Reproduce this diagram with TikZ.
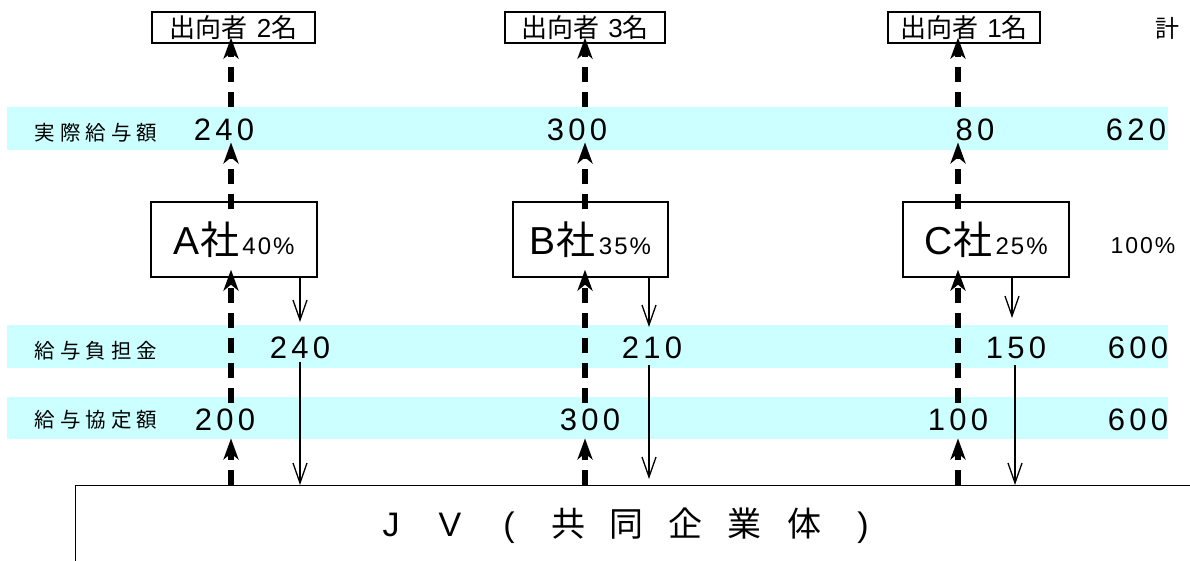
\documentclass[tikz,border=0pt]{standalone}
\usepackage{fontspec}
\setmainfont{Liberation Sans}
\newfontfamily\jp{Noto Sans CJK JP}
\usetikzlibrary{arrows.meta}
\definecolor{bandcyan}{HTML}{CCFFFF}
\newcommand\pitched[2]{\def\pitchw{#1}\pitchedA#2\relax}
\def\pitchedA#1{\ifx\relax#1\else\makebox[\pitchw][c]{#1}\expandafter\pitchedA\fi}
\newcommand\jvc[1]{\makebox[59pt][c]{#1}}
\tikzset{
  band/.style={fill=bandcyan, draw=none, inner sep=0, anchor=north west, minimum width=1161},
  lbl/.style={font=\jp\fontsize{20.5}{20.5}\selectfont, inner sep=0},
  num/.style={font=\fontsize{31}{31}\selectfont, inner sep=0},
  topbox/.style={draw, line width=1.3pt, minimum height=31, inner sep=0, font=\fontsize{26}{26}\selectfont},
  cobox/.style={draw, line width=1.3pt, minimum height=75, inner sep=0, font=\fontsize{39}{39}\selectfont},
  flow/.style={line width=6pt, dash pattern=on 15pt off 10pt, -{Stealth[length=21pt,width=15pt,inset=6pt]}},
  pay/.style={line width=1.3pt, -{Straight Barb[length=20pt,width=14pt,line width=1.3pt]}},
}
\begin{document}
\begin{tikzpicture}[x=1pt,y=-1pt]
\fill[white] (0,0) rectangle (1190,561);
\clip (0,0) rectangle (1190,561);
% bands
\node[band, minimum height=43] (b1) at (7,107) {};
\node[band, minimum height=43] (b2) at (7,325) {};
\node[band, minimum height=42] (b3) at (7,397) {};
% row labels
\node[lbl] (l1) at (96,133) {\pitched{25.5pt}{実際給与額}};
\node[lbl] (l2) at (96,351) {\pitched{25.5pt}{給与負担金}};
\node[lbl] (l3) at (96,420) {\pitched{25.5pt}{給与協定額}};
% numbers
\node[num] (nA1) at (224,130) {\pitched{21.5pt}{240}};
\node[num] (nB1) at (577,130) {\pitched{21.5pt}{300}};
\node[num] (nC1) at (975,130) {\pitched{21.5pt}{80}};
\node[num] (nT1) at (1136,130) {\pitched{21.5pt}{620}};
\node[num] (nA2) at (300,348) {\pitched{21.5pt}{240}};
\node[num] (nB2) at (652,348) {\pitched{21.5pt}{210}};
\node[num] (nC2) at (1016,348) {\pitched{21.5pt}{150}};
\node[num] (nT2) at (1138,348) {\pitched{21.5pt}{600}};
\node[num] (nA3) at (225,420) {\pitched{21.5pt}{200}};
\node[num] (nB3) at (590,420) {\pitched{21.5pt}{300}};
\node[num] (nC3) at (958,420) {\pitched{21.5pt}{100}};
\node[num] (nT3) at (1138,420) {\pitched{21.5pt}{600}};
% top boxes
\node[topbox, minimum width=163] (T1) at (233.5,27.5) {{\jp 出向者}\kern9pt 2{\jp 名}};
\node[topbox, minimum width=160] (T2) at (585,27.5) {{\jp 出向者}\kern9pt 3{\jp 名}};
\node[topbox, minimum width=152] (T3) at (964,27.5) {{\jp 出向者}\kern9pt 1{\jp 名}};
\node[font=\jp\fontsize{24}{24}\selectfont, inner sep=0] (kei) at (1167,28) {計};
% company boxes
\node[cobox, minimum width=166] (A) at (234,239.5) {A\kern1pt{\jp 社}\kern3pt{\fontsize{24}{24}\selectfont 4\kern2pt 0\kern2pt\%}};
\node[cobox, minimum width=155] (B) at (590.5,239.5) {B\kern1pt{\jp 社}\kern3pt{\fontsize{24}{24}\selectfont 3\kern2pt 5\kern2pt\%}};
\node[cobox, minimum width=166] (C) at (986,239.5) {C\kern1pt{\jp 社}\kern3pt{\fontsize{24}{24}\selectfont 2\kern2pt 5\kern2pt\%}};
\node[font=\fontsize{23}{23}\selectfont, inner sep=0] (pct) at (1143,246) {1\kern2pt 0\kern2pt 0\kern2pt\%};
% JV box
\node[draw, line width=1.3pt, anchor=north west, minimum width=1200, minimum height=200, inner sep=0] (JV) at (75,485) {};
\node[font=\fontsize{34}{34}\selectfont, inner sep=0] (jvt) at (627,526)
  {\jvc{J}\jvc{V}\jvc{(}\jvc{\jp 共}\jvc{\jp 同}\jvc{\jp 企}\jvc{\jp 業}\jvc{\jp 体}\jvc{)}};
% column coordinates
\coordinate (cA) at (231,0);
\coordinate (cB) at (585,0);
\coordinate (cC) at (958,0);
\foreach \c/\k/\t in {cA/A/T1, cB/B/T2, cC/C/T3}{
  \draw[flow] (JV.north -| \c) -- ([yshift=1pt]b3.south -| \c);
  \draw[flow] ([yshift=-6pt]b3.north -| \c) -- ([yshift=8pt]\k.south -| \c);
  \draw[flow] ([yshift=-8pt]\k.north -| \c) -- ([yshift=8pt]b1.south -| \c);
  \draw[flow] (b1.north -| \c) -- ([yshift=6pt]\t.south -| \c);
}
% payment arrows
\coordinate (pA) at (300,0);
\coordinate (pB) at (649,0);
\coordinate (pC1) at (1012,0);
\coordinate (pC2) at (1015,0);
\draw[pay] (A.south -| pA) -- ([yshift=3pt]b2.north -| pA);
\draw[pay] ([yshift=6pt]b2.south -| pA) -- (JV.north -| pA);
\draw[pay] (B.south -| pB) -- ([yshift=-2pt]b2.north -| pB);
\draw[pay] ([yshift=3pt]b2.south -| pB) -- ([yshift=6pt]JV.north -| pB);
\draw[pay] (C.south -| pC1) -- ([yshift=7pt]b2.north -| pC1);
\draw[pay] ([yshift=3pt]b2.south -| pC2) -- (JV.north -| pC2);
\end{tikzpicture}
\end{document}
